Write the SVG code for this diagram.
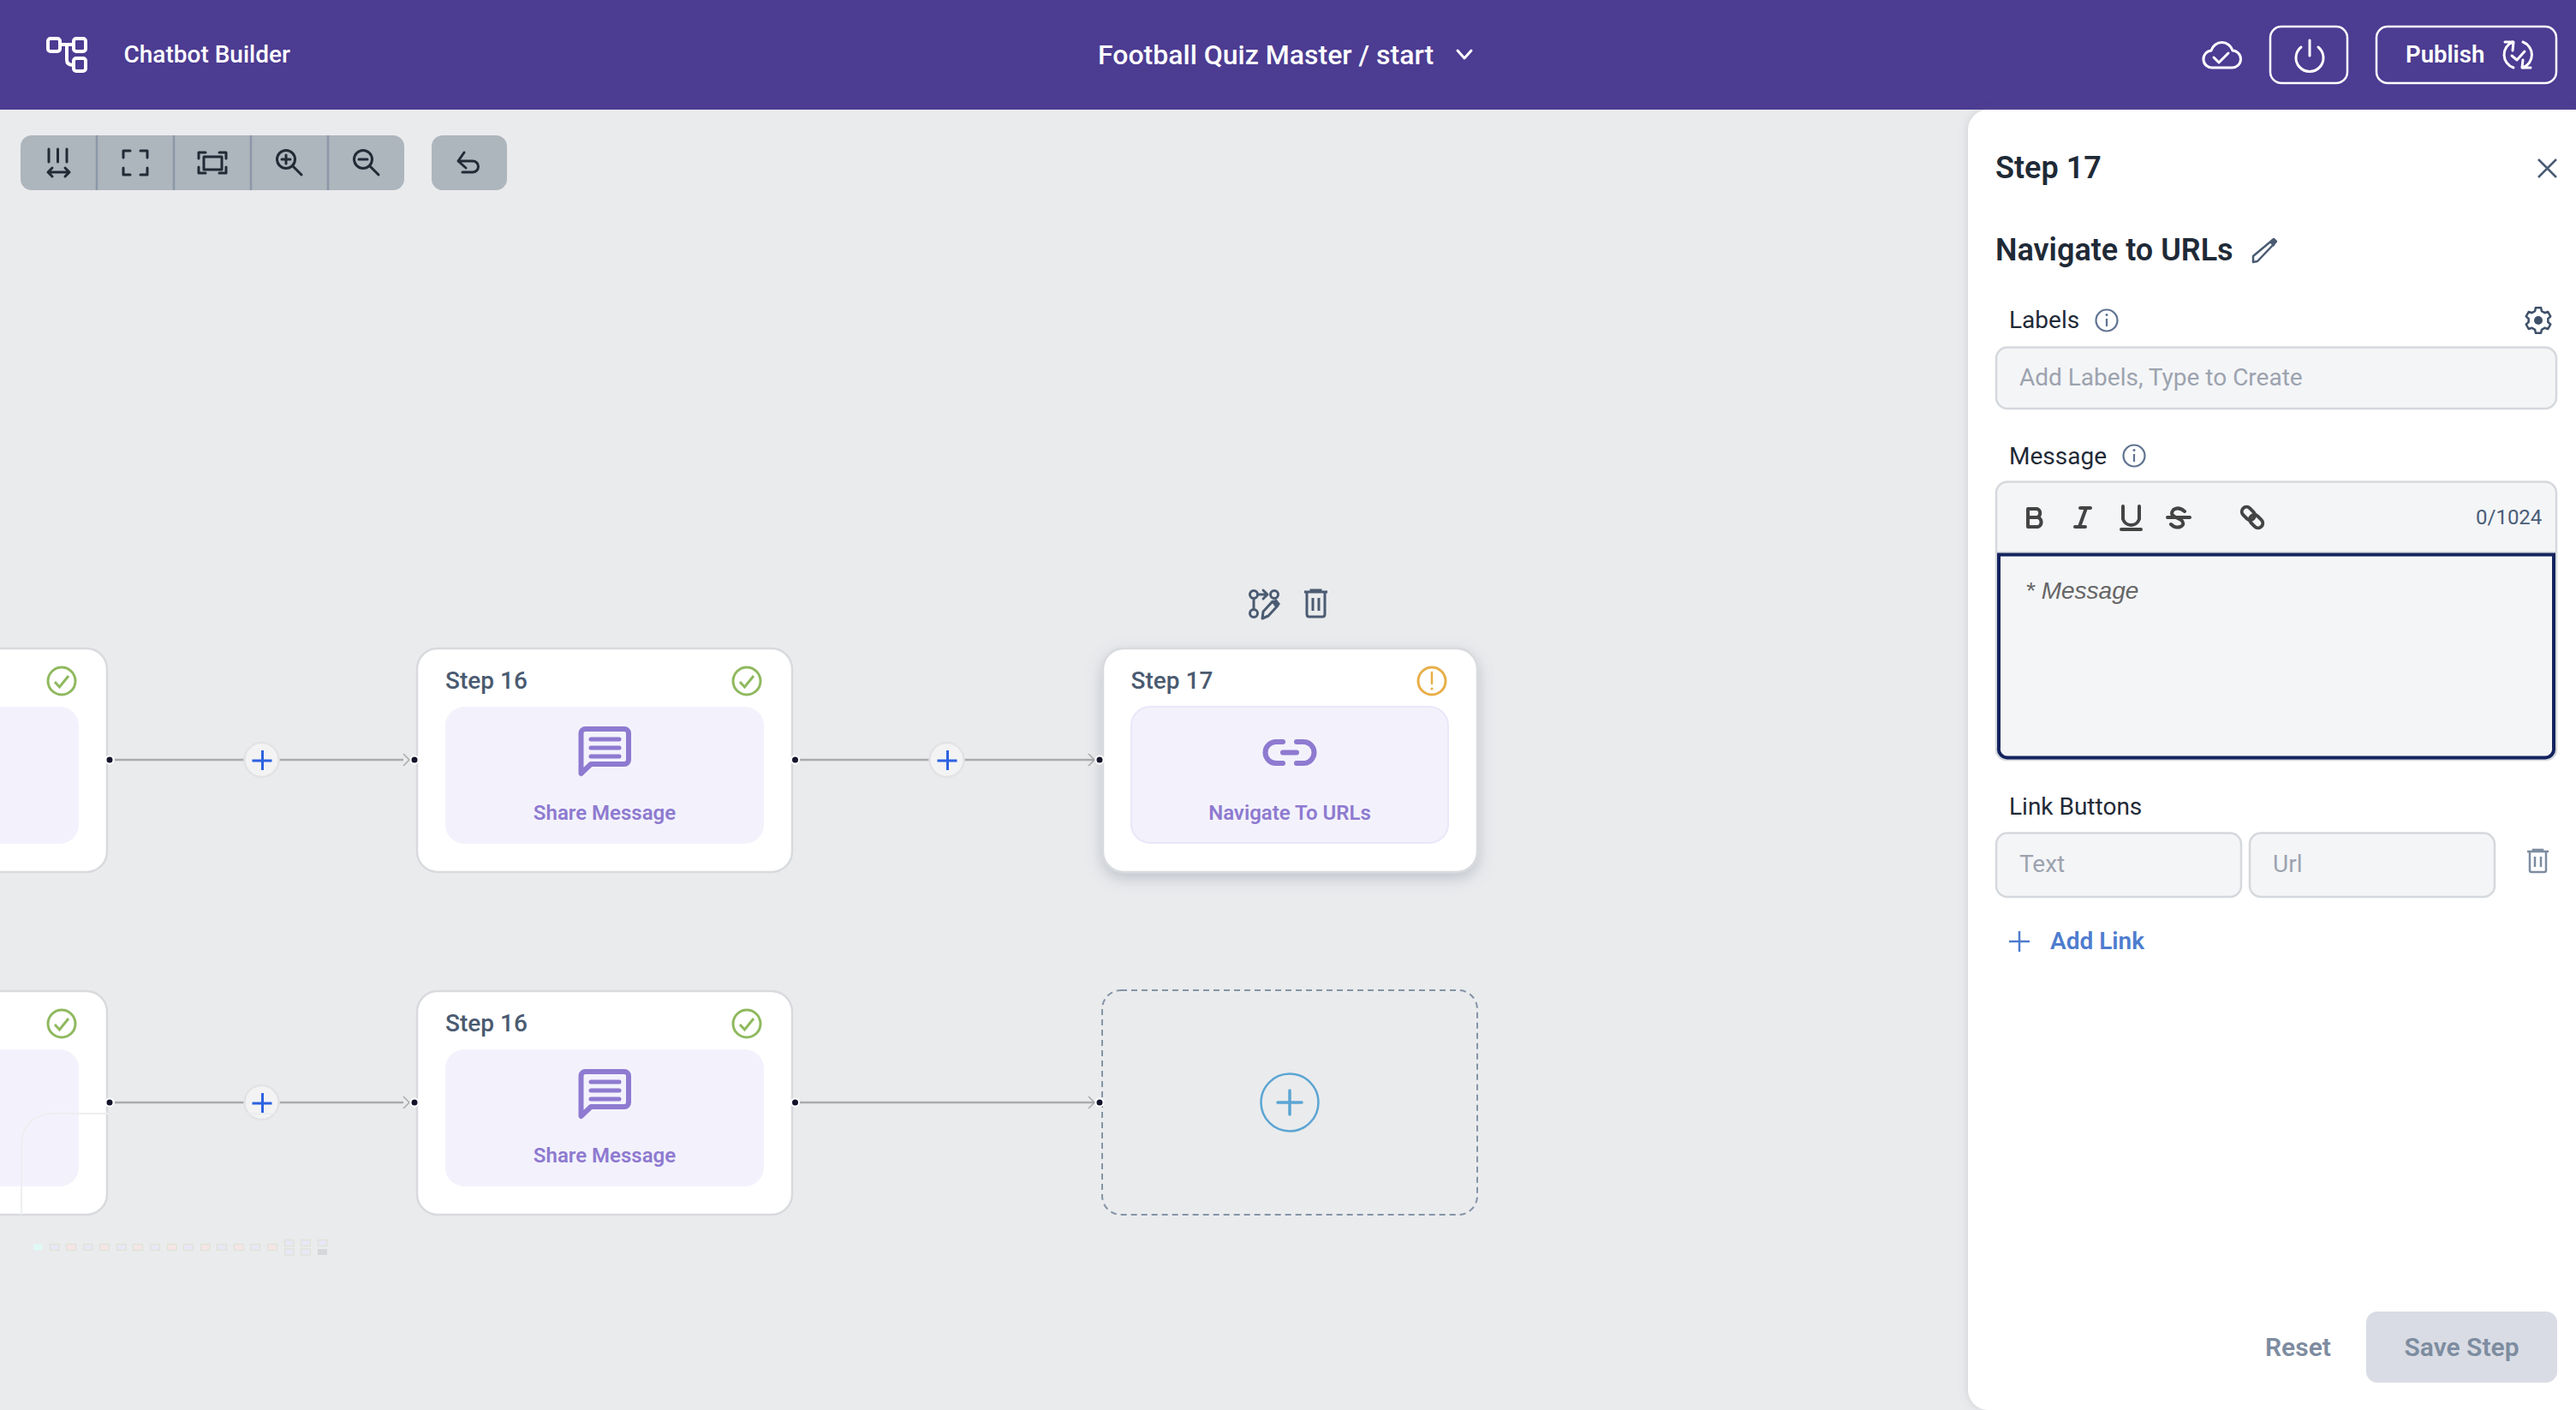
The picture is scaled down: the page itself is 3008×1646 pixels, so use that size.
<svg xmlns="http://www.w3.org/2000/svg" xmlns:xlink="http://www.w3.org/1999/xlink" width="3008" height="1646" viewBox="0 0 3008 1646">
<style>
text{font-family:Roboto,"Liberation Sans",sans-serif}
.node{fill:#fff;stroke:#D8DADD;stroke-width:2.5}
.inner{fill:#F3F2FC}
.st{font-size:28px;font-weight:500;fill:#4A5A70}
.kind{font-size:24px;font-weight:600;fill:#8E7AD0;text-anchor:middle}
.conn{stroke:#ABABAB;stroke-width:2.5;fill:none}
.chev{stroke:#ABABAB;stroke-width:1.5;fill:none}
.dot{fill:#14142B;stroke:#fff;stroke-width:2}
.pb{fill:#F3F3F4;stroke:#E2E3E5;stroke-width:2.5}
.pl{stroke:#2C62E0;stroke-width:3;fill:none}
.ok{fill:none;stroke:#8FB95E;stroke-width:3}
.ti{fill:none;stroke:#212B36;stroke-width:3;stroke-linecap:round;stroke-linejoin:round}
.hi{fill:none;stroke:#fff;stroke-width:3;stroke-linecap:round;stroke-linejoin:round}
.inp{fill:#F4F5F7;stroke:#D5D8DC;stroke-width:2.5}
.lab{font-size:28px;fill:#1F2A37}
.ph{font-size:28px;fill:#9CA3AF}
.info{fill:none;stroke:#5F7390;stroke-width:2.2}
.ed{fill:none;stroke:#444;stroke-width:4;stroke-linecap:round;stroke-linejoin:round}
.mp{fill:#E9E6F5;stroke:#DDE3D5;stroke-width:1.2}
.mr{fill:#F5E5E6;stroke:#DDE3D5;stroke-width:1.2}
</style>
<defs>
<filter id="sh" x="-15%" y="-15%" width="130%" height="135%"><feDropShadow dx="0" dy="6" stdDeviation="9" flood-color="#6B7688" flood-opacity=".35"/></filter>
<filter id="ps" x="-5%" y="-5%" width="110%" height="110%"><feDropShadow dx="-2" dy="0" stdDeviation="5" flood-color="#6B7688" flood-opacity=".18"/></filter>
<symbol id="okc" overflow="visible"><circle r="16" class="ok"/><path d="M-8,1 L-2.5,7 L8,-6" class="ok"/></symbol>
<symbol id="plus" overflow="visible"><circle r="20" class="pb"/><path d="M-11,1H12M1,-11V12" class="pl"/></symbol>
<symbol id="msg" overflow="visible"><path d="M678.500,856 a5,5 0 0 1 5,-5 H729 a5,5 0 0 1 5,5 V887 a5,5 0 0 1 -5,5 H690 L678.500,903 Z" fill="none" stroke="#8E7AD0" stroke-width="6" stroke-linejoin="round"/><path d="M690,863H723M690,873H723M690,883H723" fill="none" stroke="#8E7AD0" stroke-width="5" stroke-linecap="round"/></symbol>
</defs>

<rect width="3008" height="1646" fill="#EAEBED"/>

<g id="header">
<rect width="3008" height="128" fill="#4C3C92"/>
<g id="logo" fill="none" stroke="#fff" stroke-width="4" stroke-linejoin="round">
<rect x="56" y="45" width="14" height="15" rx="3"/><rect x="86" y="45" width="14" height="15" rx="3"/><rect x="86" y="68" width="14" height="15" rx="3"/>
<path d="M70,52H86M78,52V70Q78,76 86,76"/>
</g>
<text x="144.500" y="73" font-size="28" font-weight="500" fill="#fff">Chatbot Builder</text>
<text x="1282" y="75" font-size="32" font-weight="500" fill="#fff">Football Quiz Master / start</text>
<path d="M1702,59L1710,68L1718,59" class="hi"/>
<g id="cloud"><path d="M2584,79A10,10 0 0 1 2582,59A13,13 0 0 1 2607,59A10,10 0 0 1 2606,79Z" class="hi"/><path d="M2585,67L2591,73L2602,62" class="hi"/></g>
<rect x="2651" y="31" width="90" height="66" rx="13" fill="none" stroke="#fff" stroke-width="2.500"/>
<path d="M2687,55A16,16 0 1 0 2707,55M2697,47V65" class="hi"/>
<rect x="2775" y="31" width="210" height="66" rx="13" fill="none" stroke="#fff" stroke-width="2.500"/>
<text x="2809" y="73" font-size="27.500" font-weight="600" fill="#fff">Publish</text>
<g id="sync"><path d="M2934,49A16,16 0 0 0 2935,79M2946,49A16,16 0 0 1 2946,79" class="hi"/><path d="M2925,49L2935,49L2934,59M2955,79L2945,79L2946,70" class="hi"/><path d="M2933,65L2939,70L2948,60" class="hi"/></g>
</g>

<g id="toolbar">
<rect x="24" y="158" width="448" height="64" rx="13" fill="#ADB5BD"/>
<path d="M113,158V222M203,158V222M293,158V222M383,158V222" stroke="#8C98A8" stroke-width="2.500"/>
<path d="M57,174V189M67.500,174V189M78,174V189M56,201H81M61,196L56,201L61,206M76,196L81,201L76,206" class="ti"/>
<path d="M144,184V176H152M164,176H172V184M144,196V204H152M164,204H172V196" class="ti"/>
<path d="M232,185V178H240M256,178H264V185M232,195V202H240M256,202H264V195" class="ti"/><rect x="238" y="183" width="21" height="15" class="ti"/>
<circle cx="334" cy="186" r="10.500" class="ti"/><path d="M342,194L352,204M334,181V191M329,186H339" class="ti"/>
<circle cx="424" cy="186" r="10.500" class="ti"/><path d="M432,194L442,204M419,186H429" class="ti"/>
<rect x="504" y="158" width="88" height="64" rx="13" fill="#ADB5BD"/>
<path d="M542,178L535,188L544,196M535,188H552A6.500,6.500 0 0 1 552,201H540" class="ti"/>
</g>

<g id="connectors">
<path d="M134,887H286M326,887H471M931,887H1085M1126,887H1278M134,1287H286M326,1287H471M931,1287H1278" class="conn"/>
<path d="M471,880L478,887L471,894M1271,880L1278,887L1271,894M471,1280L478,1287L471,1294M1271,1280L1278,1287L1271,1294" class="chev"/>
</g>

<g id="node-step15a">
<rect x="-30" y="757" width="155" height="261" rx="24" class="node"/>
<rect x="-30" y="825" width="122" height="160" rx="22" class="inner"/>
<use href="#okc" x="72" y="795"/>
</g>
<g id="node-step16a">
<rect x="487" y="757" width="438" height="261" rx="24" class="node"/>
<rect x="520" y="825" width="372" height="160" rx="22" class="inner"/>
<text x="520" y="804" class="st">Step 16</text>
<use href="#okc" x="872" y="795"/>
<use href="#msg"/>
<text x="706" y="957" class="kind">Share Message</text>
</g>
<g id="node-step17">
<rect x="1288" y="757" width="437" height="261" rx="24" class="node" filter="url(#sh)"/>
<rect x="1321" y="825" width="370" height="159" rx="22" class="inner" stroke="#E9E7F9" stroke-width="2"/>
<text x="1320.500" y="804" class="st">Step 17</text>
<circle cx="1672" cy="795" r="16" fill="none" stroke="#E8AE47" stroke-width="3"/>
<path d="M1672,785V798" stroke="#E8AE47" stroke-width="2.500" stroke-linecap="round"/><circle cx="1672" cy="804" r="1.600" fill="#E8AE47"/>
<path d="M1498,866H1490A12.500,12.500 0 0 0 1490,891H1498M1514,866H1522A12.500,12.500 0 0 1 1522,891H1514M1498,878.500H1514" fill="none" stroke="#8E7AD0" stroke-width="6" stroke-linecap="round"/>
<text x="1506" y="957" class="kind">Navigate To URLs</text>
</g>
<g id="node-actions">
<g fill="none" stroke="#4A5B72" stroke-width="3" stroke-linecap="round" stroke-linejoin="round">
<circle cx="1464" cy="694" r="4.500"/><circle cx="1464" cy="716" r="4.500"/><circle cx="1488" cy="694" r="4.500"/>
<path d="M1464,699V711M1469,694H1479M1475,689L1480,694L1475,699"/>
<path d="M1474,722L1475,714L1486,702L1492,707L1481,719Z"/>
</g>
<path d="M1485,703L1490,699L1495,705L1490,710Z" fill="#4A5B72"/>
<g fill="none" stroke="#4A5B72" stroke-width="3"><path d="M1523,691H1550M1531,691V689H1542V691M1526,692V717Q1526,720 1529,720H1544Q1547,720 1547,717V692M1533,698V713M1540,698V713"/></g>
</g>

<g id="node-step15b">
<rect x="-30" y="1157" width="155" height="261" rx="24" class="node"/>
<rect x="-30" y="1225" width="122" height="160" rx="22" class="inner"/>
<use href="#okc" x="72" y="1195"/>
</g>
<g id="node-step16b">
<rect x="487" y="1157" width="438" height="261" rx="24" class="node"/>
<rect x="520" y="1225" width="372" height="160" rx="22" class="inner"/>
<text x="520" y="1204" class="st">Step 16</text>
<use href="#okc" x="872" y="1195"/>
<use href="#msg" y="400"/>
<text x="706" y="1357" class="kind">Share Message</text>
</g>
<g id="node-add">
<rect x="1287" y="1156" width="438" height="262" rx="22" fill="none" stroke="#8494A6" stroke-width="2" stroke-dasharray="7 5"/>
<circle cx="1506" cy="1287" r="33.500" fill="none" stroke="#5BA5D3" stroke-width="2.500"/>
<path d="M1492,1287H1520M1506,1273V1301" fill="none" stroke="#5BA5D3" stroke-width="3.500" stroke-linecap="round"/>
</g>

<g id="connector-dots">
<circle cx="128" cy="887" r="4.500" class="dot"/><circle cx="484" cy="887" r="4.500" class="dot"/><circle cx="928.500" cy="887" r="4.500" class="dot"/><circle cx="1284" cy="887" r="4.500" class="dot"/>
<circle cx="128" cy="1287" r="4.500" class="dot"/><circle cx="484" cy="1287" r="4.500" class="dot"/><circle cx="928.500" cy="1287" r="4.500" class="dot"/><circle cx="1284" cy="1287" r="4.500" class="dot"/>
<use href="#plus" x="305.500" y="887"/><use href="#plus" x="1105.500" y="887"/><use href="#plus" x="305.500" y="1287"/>
</g>

<g id="minimap">
<path d="M126,1300H60A35,35 0 0 0 25,1335V1418" fill="none" stroke="#EDEEF0" stroke-width="2"/>
<path d="M288,1300H324" stroke="#EAEBED" stroke-width="1.500"/>
<rect x="39" y="1452.500" width="10.500" height="7" fill="#DFF9F5"/>
<rect x="58.500" y="1452.500" width="10.500" height="7" class="mp"/><rect x="77.500" y="1452.500" width="11" height="7" class="mr"/><rect x="97.500" y="1452.500" width="10.500" height="7" class="mp"/><rect x="116.500" y="1452.500" width="11" height="7" class="mr"/><rect x="136.500" y="1452.500" width="11" height="7" class="mp"/><rect x="155.500" y="1452.500" width="11" height="7" class="mr"/><rect x="175.500" y="1452.500" width="11" height="7" class="mp"/><rect x="195.500" y="1452.500" width="10.500" height="7" class="mr"/><rect x="214.500" y="1452.500" width="11" height="7" class="mp"/><rect x="234.500" y="1452.500" width="10.500" height="7" class="mr"/><rect x="253.500" y="1452.500" width="11" height="7" class="mp"/><rect x="273.500" y="1452.500" width="11" height="7" class="mr"/><rect x="292.500" y="1452.500" width="11" height="7" class="mp"/><rect x="312.500" y="1452.500" width="11" height="7" class="mr"/>
<rect x="332.500" y="1447.500" width="10.500" height="7" class="mp"/><rect x="332.500" y="1458" width="10.500" height="7" class="mp"/><rect x="351.500" y="1447.500" width="11" height="7" class="mp"/><rect x="351.500" y="1458" width="11" height="7" class="mp"/><rect x="371.500" y="1447.500" width="10.500" height="7" class="mp"/><rect x="371" y="1458" width="11" height="7" fill="#D5D7DB"/>
</g>

<g id="side-panel">
<path d="M2322,128H3008V1646H2322A24,24 0 0 1 2298,1622V152A24,24 0 0 1 2322,128Z" fill="#fff" filter="url(#ps)"/>
<text x="2330" y="208" font-size="36" font-weight="600" fill="#1F2A37">Step 17</text>
<path d="M2964,186L2985,207M2985,186L2964,207" fill="none" stroke="#4A5B72" stroke-width="2.500"/>
<text x="2330" y="304" font-size="36" font-weight="600" fill="#1F2A37">Navigate to URLs</text>
<g id="pencil"><path d="M2631,299L2655,279L2658,282L2636,305L2631,306Z" fill="none" stroke="#4A5B72" stroke-width="2.500" stroke-linejoin="round"/><path d="M2650,283L2655,279L2658,283L2655,288Z" fill="#4A5B72"/></g>
<text x="2346" y="383" class="lab">Labels</text>
<circle cx="2460" cy="374" r="12.500" class="info"/><path d="M2460,372V381" class="info"/><circle cx="2460" cy="367.500" r="1.500" fill="#5F7390"/>
<g id="gear" transform="translate(2964 374)"><path d="M-3.120,-14.670L3.120,-14.670L3.930,-10.810L7.390,-8.810L11.150,-10.040L14.270,-4.640L11.330,-2L11.330,2L14.270,4.640L11.150,10.040L7.390,8.810L3.930,10.810L3.120,14.670L-3.120,14.670L-3.930,10.810L-7.390,8.810L-11.150,10.040L-14.270,4.640L-11.330,2L-11.330,-2L-14.270,-4.640L-11.150,-10.040L-7.390,-8.810L-3.930,-10.810Z" fill="none" stroke="#3F5069" stroke-width="2.500" stroke-linejoin="round"/><circle r="5" fill="#3F5069"/></g>
<rect x="2331" y="405.500" width="654" height="71.500" rx="13" class="inp"/>
<text x="2358" y="450" class="ph">Add Labels, Type to Create</text>
<text x="2346" y="542" class="lab">Message</text>
<circle cx="2492" cy="532" r="12.500" class="info"/><path d="M2492,530V539" class="info"/><circle cx="2492" cy="525.500" r="1.500" fill="#5F7390"/>
<path d="M2331,645V575A13,13 0 0 1 2344,562.500H2972A13,13 0 0 1 2985,575V645" class="inp"/>
<path d="M2331,645H2985V875A12,12 0 0 1 2973,887H2343A12,12 0 0 1 2331,875Z" class="inp"/>
<path d="M2334,647.500H2982V873A10,10 0 0 1 2972,884.500H2344A10,10 0 0 1 2334,873Z" fill="#F4F5F7" stroke="#14235F" stroke-width="4"/>
<g id="editor-tools">
<path d="M2368,594H2379A5.500,5.500 0 0 1 2379,604H2368H2380A6,6 0 0 1 2380,615H2368Z" class="ed"/>
<path d="M2429,593H2441M2423,615H2435M2436,593L2428,615" class="ed"/>
<path d="M2479,591V606A10,10 0 0 0 2498,606V591" class="ed" stroke-width="3"/><path d="M2477,618H2500" class="ed" stroke-width="2.500" stroke-linecap="butt"/>
<path d="M2551,597Q2544,591 2538,595Q2533,601 2541,604L2547,607Q2552,612 2546,615Q2540,617 2535,612" class="ed" stroke-width="3.500"/><path d="M2531,604H2557" class="ed" stroke-width="2"/>
<g transform="rotate(45 2630 604)"><rect x="2615" y="598.500" width="17" height="11" rx="5.500" class="ed"/><rect x="2628" y="598.500" width="17" height="11" rx="5.500" class="ed"/></g>
</g>
<text x="2891" y="612" font-size="24" fill="#4A5D78">0/1024</text>
<text x="2365" y="699" font-size="28" font-style="italic" fill="#666" style="font-family:'Liberation Sans',Arial,sans-serif">* Message</text>
<text x="2346" y="951" class="lab">Link Buttons</text>
<rect x="2331" y="972.500" width="286" height="74.500" rx="13" class="inp"/>
<rect x="2627" y="972.500" width="286" height="74.500" rx="13" class="inp"/>
<text x="2358" y="1018" class="ph">Text</text>
<text x="2654" y="1018" class="ph">Url</text>
<g id="trash-link" fill="none" stroke="#7D8CA0" stroke-width="2.500"><path d="M2951,994H2976M2958,994V992H2969V994M2954,995V1016Q2954,1018 2956,1018H2971Q2973,1018 2973,1016V995M2960,1000V1012M2967,1000V1012"/></g>
<path d="M2346,1099H2370M2358,1087V1111" stroke="#4E7CCF" stroke-width="2.500"/>
<text x="2394" y="1108" font-size="28" font-weight="600" fill="#4E7CCF">Add Link</text>
<text x="2645" y="1583" font-size="30" font-weight="600" fill="#7D8CA0">Reset</text>
<rect x="2763" y="1531" width="223" height="83" rx="13" fill="#D9DCE4"/>
<text x="2874.500" y="1583" font-size="30" font-weight="600" fill="#7D8CA0" text-anchor="middle">Save Step</text>
</g>
</svg>
